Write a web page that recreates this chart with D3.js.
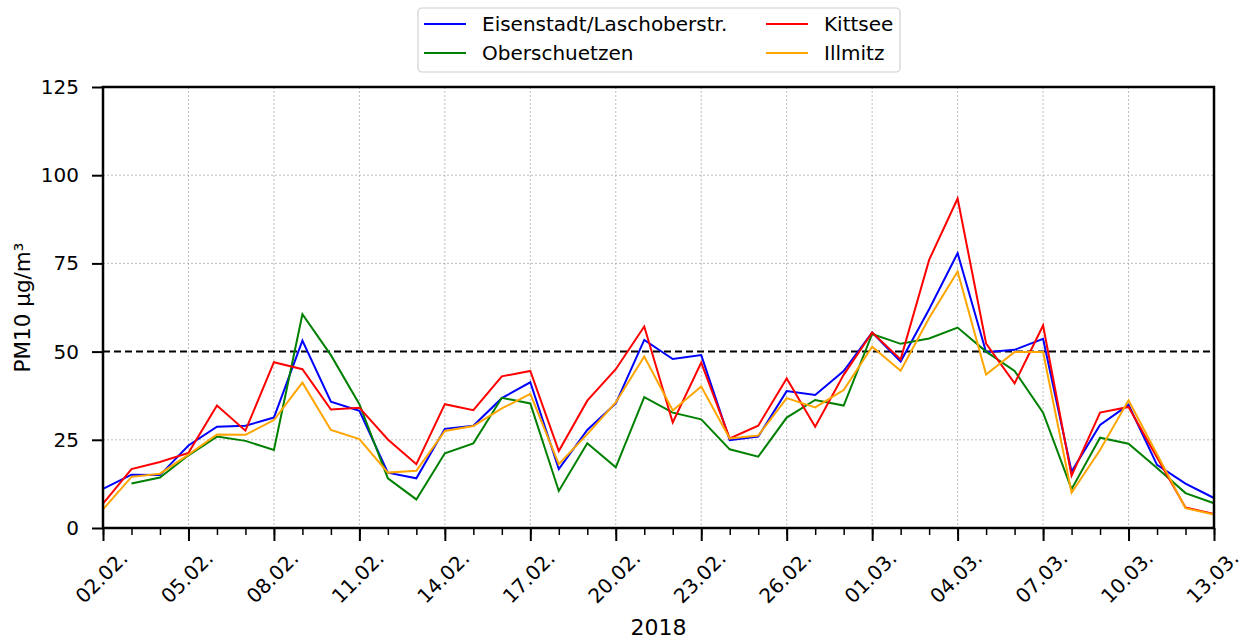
<!DOCTYPE html>
<html>
<head>
<meta charset="utf-8">
<script src="https://cdn.jsdelivr.net/npm/d3@7"></script>
<style>
  html, body { margin: 0; padding: 0; background: #fff; }
  svg { display: block; font-family: "DejaVu Sans", sans-serif; }
</style>
</head>
<body>
<svg id="chart" width="1248" height="641"></svg>
<script>
// Daily PM10 means, 02.02.2018 – 13.03.2018
const days = [
  "2018-02-02","2018-02-03","2018-02-04","2018-02-05","2018-02-06","2018-02-07","2018-02-08","2018-02-09",
  "2018-02-10","2018-02-11","2018-02-12","2018-02-13","2018-02-14","2018-02-15","2018-02-16","2018-02-17",
  "2018-02-18","2018-02-19","2018-02-20","2018-02-21","2018-02-22","2018-02-23","2018-02-24","2018-02-25",
  "2018-02-26","2018-02-27","2018-02-28","2018-03-01","2018-03-02","2018-03-03","2018-03-04","2018-03-05",
  "2018-03-06","2018-03-07","2018-03-08","2018-03-09","2018-03-10","2018-03-11","2018-03-12","2018-03-13"
];

const eisenstadt = [11.1,15.1,15.0,23.4,28.7,29.0,31.3,53.1,35.8,33.2,15.7,14.1,28.1,29.0,36.8,41.3,16.7,27.8,35.3,53.3,
                    47.9,49.0,24.9,25.9,38.8,37.7,44.5,55.4,47.2,62.0,77.9,49.8,50.5,53.6,16.0,29.2,34.9,17.9,12.6,8.5];
const oberschuetzen = [null,12.6,14.3,20.6,25.9,24.7,22.1,60.6,49.0,35.1,14.1,8.1,21.2,24.0,36.9,35.3,10.5,24.0,17.2,37.1,
                    32.7,30.8,22.3,20.2,31.3,36.3,34.7,55.0,52.2,53.7,56.8,50.0,44.5,32.7,11.0,25.6,23.9,17.0,9.9,7.0];
const kittsee = [6.9,16.7,18.7,21.3,34.7,27.6,47.0,45.0,33.6,34.1,25.1,18.1,35.1,33.4,43.0,44.5,21.8,36.1,45.0,57.1,
                    29.9,46.9,25.4,29.0,42.4,28.7,43.4,55.4,47.8,76.0,93.4,52.3,41.0,57.4,14.8,32.7,34.3,20.0,5.8,4.0];
const illmitz = [5.3,14.5,15.4,20.8,26.5,26.4,30.6,41.2,27.8,25.2,15.7,16.2,27.5,28.9,33.9,38.0,18.1,26.6,35.6,48.6,
                    33.3,40.1,25.4,26.2,36.8,34.2,39.1,51.4,44.6,59.5,72.7,43.5,49.9,49.9,10.0,22.1,36.2,20.9,5.6,3.8];

const seriesNames = ["Eisenstadt/Laschoberstr.", "Oberschuetzen", "Kittsee", "Illmitz"];
const seriesColors = ["#0000ff", "#008000", "#ff0000", "#ffa500"];
const seriesValues = [eisenstadt, oberschuetzen, kittsee, illmitz];

const yTicks = [0, 25, 50, 75, 100, 125];
const xTickDays = ["2018-02-02","2018-02-05","2018-02-08","2018-02-11","2018-02-14","2018-02-17","2018-02-20",
                   "2018-02-23","2018-02-26","2018-03-01","2018-03-04","2018-03-07","2018-03-10","2018-03-13"];
const limitValue = 50;
const yLabel = "PM10 µg/m³";
const xLabel = "2018";

const parse = d3.timeParse("%Y-%m-%d");
const fmt = d3.timeFormat("%d.%m.");
const dates = days.map(parse);

const svg = d3.select("#chart");
const m = { left: 103, right: 1214, top: 87, bottom: 528 };

const x = d3.scaleTime().domain(d3.extent(dates)).range([m.left, m.right]);
const y = d3.scaleLinear().domain([0, 125]).range([m.bottom, m.top]);

// grid
const grid = svg.append("g").attr("stroke", "#a0a0a0").attr("stroke-width", 0.7).attr("stroke-dasharray", "2,2");
grid.selectAll("line.gx").data(xTickDays.map(parse)).join("line")
  .attr("x1", d => x(d)).attr("x2", d => x(d)).attr("y1", m.top).attr("y2", m.bottom);
grid.selectAll("line.gy").data(yTicks.filter(v => v !== limitValue)).join("line")
  .attr("x1", m.left).attr("x2", m.right).attr("y1", d => y(d)).attr("y2", d => y(d));

// limit value line
svg.append("line")
  .attr("x1", m.left).attr("x2", m.right)
  .attr("y1", y(limitValue)).attr("y2", y(limitValue))
  .attr("stroke", "#000").attr("stroke-width", 2).attr("stroke-dasharray", "7,4");

// series
const line = d3.line()
  .defined(d => d.v !== null)
  .x(d => x(d.t)).y(d => y(d.v));
seriesValues.forEach((vals, i) => {
  svg.append("path")
    .datum(vals.map((v, j) => ({ t: dates[j], v })))
    .attr("fill", "none")
    .attr("stroke", seriesColors[i])
    .attr("stroke-width", 2)
    .attr("d", line);
});

// frame
svg.append("rect")
  .attr("x", m.left).attr("y", m.top)
  .attr("width", m.right - m.left).attr("height", m.bottom - m.top)
  .attr("fill", "none").attr("stroke", "#000").attr("stroke-width", 2.5);

// y axis
const yAxis = d3.axisLeft(y).tickValues(yTicks).tickSize(11).tickPadding(13);
const gy = svg.append("g").attr("transform", `translate(${m.left},0)`).call(yAxis);
gy.select(".domain").remove();
gy.selectAll(".tick line").attr("stroke", "#000").attr("stroke-width", 2);
gy.selectAll(".tick text").attr("font-size", 20).attr("fill", "#000").attr("font-family", "DejaVu Sans");

// x axis: minor ticks daily, major every third day
const gxMinor = svg.append("g").attr("transform", `translate(0,${m.bottom})`)
  .call(d3.axisBottom(x).tickValues(dates).tickSize(7).tickFormat(""));
gxMinor.select(".domain").remove();
gxMinor.selectAll(".tick line").attr("stroke", "#000").attr("stroke-width", 1.5);

const gx = svg.append("g").attr("transform", `translate(0,${m.bottom})`)
  .call(d3.axisBottom(x).tickValues(xTickDays.map(parse)).tickSize(13).tickFormat(fmt));
gx.select(".domain").remove();
gx.selectAll(".tick line").attr("stroke", "#000").attr("stroke-width", 2);
gx.selectAll(".tick text")
  .attr("font-size", 20).attr("fill", "#000").attr("font-family", "DejaVu Sans")
  .attr("text-anchor", "middle").attr("dy", null)
  .attr("dominant-baseline", "central")
  .attr("transform", "translate(-2,49) rotate(-45)")
  .attr("y", 0);

// axis titles
svg.append("text")
  .attr("transform", `translate(22,${(m.top + m.bottom) / 2}) rotate(-90)`)
  .attr("text-anchor", "middle").attr("dominant-baseline", "central")
  .attr("font-size", 21.5).text(yLabel);
svg.append("text")
  .attr("x", (m.left + m.right) / 2).attr("y", 635)
  .attr("text-anchor", "middle").attr("font-size", 22).text(xLabel);

// legend
const lg = svg.append("g");
lg.append("rect").attr("x", 418).attr("y", 8).attr("width", 482).attr("height", 64).attr("rx", 4)
  .attr("fill", "#fff").attr("fill-opacity", 0.8).attr("stroke", "#d0d0d0").attr("stroke-width", 1.2);
const legendPos = [[424, 24], [424, 53], [766, 24], [766, 53]];
seriesNames.forEach((name, i) => {
  const [lx, ly] = legendPos[i];
  lg.append("line").attr("x1", lx).attr("x2", lx + 42).attr("y1", ly).attr("y2", ly)
    .attr("stroke", seriesColors[i]).attr("stroke-width", 2);
  lg.append("text").attr("x", lx + 58).attr("y", ly).attr("dominant-baseline", "central")
    .attr("font-size", 20).text(name);
});
</script>
</body>
</html>
